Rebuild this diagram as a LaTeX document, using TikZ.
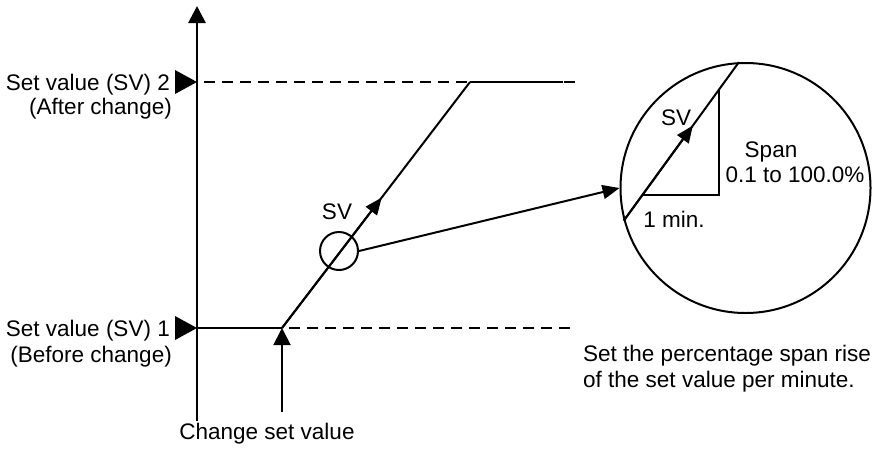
\documentclass[tikz,border=0pt]{standalone}
\usepackage{fontspec}
\setmainfont{Liberation Sans}
\usetikzlibrary{arrows.meta,calc}
\tikzset{
  thinline/.style={line width=2pt},
  dashline/.style={line width=2pt,dash pattern=on 11pt off 7pt,dash phase=11pt},
  bigtip/.style={-{Triangle[length=17pt,width=17pt]}},
  smalltip/.style={-{Triangle[length=17pt,width=14pt]}},
  lbl/.style={inner sep=0pt,font=\fontsize{22.5}{26}\selectfont},
  lens/.style={draw,thinline,circle,inner sep=0pt},
}
\begin{document}
\begin{tikzpicture}[x=1pt,y=-1pt]
\useasboundingbox (0,0) rectangle (872,448);
\draw[line width=2.8pt,bigtip] (197,421) -- (197,6);
\coordinate (sv2) at (197,82);
\coordinate (sv1) at (197,328);
\coordinate (rampbot) at (282,328);
\coordinate (ramptop) at (470,82);
\foreach \p in {sv1,sv2}
    \fill (\p) -- ++(-22,-12) -- ++(0,24) -- cycle;
\draw[dashline] (sv2) -- (577,82);
\draw[thinline] (ramptop) -- (563,82);
\draw[thinline] (sv1) -- (rampbot);
\draw[dashline] (rampbot) -- (577,328);
\draw[thinline] (rampbot) -- (ramptop);
\draw[thinline,smalltip] (rampbot) -- ($(rampbot)!0.53!(ramptop)$);
\node[lbl,anchor=base east] (sv2lbl) at (170,90) {Set value (SV) 2};
\node[lbl,anchor=base east] (sv2note) at (172,114) {(After change)};
\node[lbl,anchor=base east] (sv1lbl) at (170,336) {Set value (SV) 1};
\node[lbl,anchor=base east] (sv1note) at (172,362) {(Before change)};
\node[lbl,anchor=base] (chglbl) at (267,439) {Change set value};
\draw[thinline,bigtip] ([yshift=11pt]chglbl.north -| rampbot) -- (rampbot);
\node[lens,minimum size=38pt] (zoomc) at (339,251) {};
\node[lbl] (svsmall) at (337,212) {SV};
\node[lens,minimum size=250pt] (detail) at (745.5,188) {};
\draw[thinline,smalltip] (zoomc.east) -- (detail.west);
\draw[thinline] (detail.195) -- (detail.93);
\draw[thinline,smalltip] (detail.195) -- ($(detail.195)!0.6!(detail.93)$);
\draw[thinline] ($(detail.195)!0.16!(detail.93)$) -| ($(detail.195)!0.83!(detail.93)$);
\node[lbl] (svbig) at (676,118) {SV};
\node[lbl] (spanlbl) at (771,152) {Span};
\node[lbl] (spanval) at (795,175) {0.1 to 100.0\%};
\node[lbl] (minlbl) at (674,219) {1 min.};
\node[lbl,anchor=north west,align=left] (note) at (583,345) {Set the percentage span rise\\of the set value per minute.};
\end{tikzpicture}
\end{document}
